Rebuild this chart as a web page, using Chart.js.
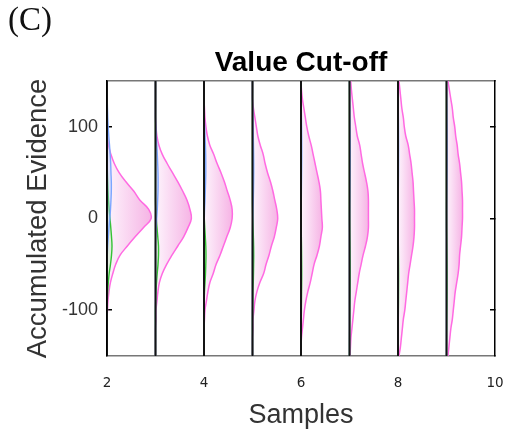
<!DOCTYPE html>
<html><head><meta charset="utf-8">
<script src="https://cdn.jsdelivr.net/npm/chart.js@4"></script>
<style>
html,body{margin:0;padding:0;background:#fff;}
#wrap{position:relative;width:508px;height:436px;}
#panel{position:absolute;left:8px;top:3px;font-family:'Liberation Serif','Times New Roman',serif;font-size:33px;line-height:1;color:#111;}
</style></head><body>
<div id="wrap"><canvas id="c" width="508" height="436"></canvas><div id="panel">(C)</div></div>
<script>
// ---- data ----
const samples = [2, 3, 4, 5, 6, 7, 8, 9];
const xTicks = [2, 4, 6, 8, 10];
const yTicks = [-100, 0, 100];
// evidence levels (top to bottom)
const levels = [150,140,130,120,110,100,90,80,70,60,50,40,30,20,10,0,-10,-20,-30,-40,-50,-60,-70,-80,-90,-100,-110,-120,-130,-140,-150];

// magenta (all trials) density, in sample units, per sample
const density2 = [0,0,0,0,0,0,0.01,0.03,0.08,0.15,0.25,0.39,0.55,0.68,0.86,0.91,0.75,0.58,0.42,0.27,0.18,0.12,0.07,0.04,0.02,0.01,0,0,0,0,0];
const density3 = [0,0,0,0,0,0.01,0.03,0.07,0.14,0.24,0.35,0.46,0.56,0.65,0.71,0.74,0.67,0.58,0.46,0.34,0.23,0.14,0.08,0.05,0.03,0.01,0.01,0,0,0,0];
const density4 = [0,0,0,0.01,0.02,0.04,0.07,0.12,0.2,0.27,0.35,0.42,0.48,0.54,0.58,0.58,0.54,0.47,0.4,0.33,0.25,0.19,0.12,0.08,0.05,0.02,0.01,0,0,0,0];
const density5 = [0,0,0,0.02,0.05,0.08,0.11,0.16,0.22,0.26,0.31,0.37,0.42,0.46,0.5,0.52,0.49,0.45,0.39,0.34,0.28,0.23,0.15,0.09,0.05,0.03,0.01,0.01,0,0,0];
const density6 = [0,0.01,0.03,0.06,0.09,0.12,0.16,0.21,0.25,0.29,0.33,0.37,0.4,0.41,0.42,0.43,0.44,0.41,0.38,0.33,0.27,0.23,0.19,0.14,0.1,0.07,0.05,0.03,0.01,0,0];
const density7 = [0.025,0.04,0.06,0.08,0.1,0.13,0.16,0.21,0.24,0.27,0.31,0.35,0.38,0.39,0.39,0.39,0.39,0.37,0.33,0.28,0.24,0.2,0.17,0.14,0.11,0.09,0.07,0.05,0.03,0.02,0.01];
const density8 = [0.02,0.04,0.06,0.08,0.11,0.13,0.16,0.21,0.24,0.27,0.29,0.31,0.32,0.33,0.34,0.34,0.34,0.33,0.31,0.28,0.25,0.22,0.2,0.18,0.16,0.14,0.11,0.09,0.07,0.05,0.02];
const density9 = [0.03,0.06,0.09,0.12,0.14,0.17,0.19,0.22,0.24,0.27,0.29,0.31,0.32,0.33,0.33,0.33,0.32,0.31,0.29,0.27,0.26,0.24,0.21,0.18,0.16,0.14,0.12,0.09,0.07,0.05,0.03];

// blue (upper-bound) density
const blue2 = [0,0,0.004,0.01,0.016,0.025,0.037,0.052,0.066,0.076,0.082,0.089,0.089,0.082,0.072,0.058,0.041,0.027,0.014,0.006,0,0,0,0,0,0,0,0,0,0,0];
const blue3 = [0,0,0,0,0,0.006,0.016,0.027,0.037,0.045,0.052,0.054,0.052,0.045,0.037,0.025,0.014,0.006,0,0,0,0,0,0,0,0,0,0,0,0,0];
const blue4 = [0,0,0,0,0.006,0.014,0.021,0.029,0.035,0.037,0.037,0.033,0.027,0.021,0.012,0.006,0,0,0,0,0,0,0,0,0,0,0,0,0,0,0];
const blue5 = [0,0,0,0.004,0.008,0.012,0.016,0.02,0.023,0.025,0.025,0.023,0.02,0.016,0.01,0.006,0.002,0,0,0,0,0,0,0,0,0,0,0,0,0,0];
const blue6 = [0,0,0.003,0.006,0.009,0.012,0.014,0.015,0.015,0.014,0.012,0.01,0.008,0.006,0.004,0.002,0,0,0,0,0,0,0,0,0,0,0,0,0,0,0];
const blue7 = [0,0.002,0.004,0.006,0.008,0.01,0.012,0.013,0.013,0.012,0.011,0.009,0.007,0.005,0.003,0.001,0,0,0,0,0,0,0,0,0,0,0,0,0,0,0];
const blue8 = [0,0.002,0.004,0.006,0.008,0.01,0.011,0.012,0.012,0.011,0.01,0.008,0.006,0.004,0.002,0.001,0,0,0,0,0,0,0,0,0,0,0,0,0,0,0];
const blue9 = [0.001,0.003,0.005,0.007,0.008,0.01,0.011,0.011,0.011,0.01,0.009,0.007,0.005,0.003,0.002,0.001,0,0,0,0,0,0,0,0,0,0,0,0,0,0,0];

// green (lower-bound) density
const green2 = [0,0,0,0,0,0,0,0,0,0.004,0.008,0.014,0.021,0.031,0.045,0.062,0.078,0.093,0.103,0.093,0.072,0.045,0.027,0.014,0.006,0.004,0,0,0,0,0];
const green3 = [0,0,0,0,0,0,0,0,0,0,0,0,0,0,0.006,0.016,0.031,0.047,0.062,0.062,0.052,0.035,0.021,0.01,0.004,0,0,0,0,0,0];
const green4 = [0,0,0,0,0,0,0,0,0,0,0,0,0,0,0,0.006,0.016,0.027,0.037,0.041,0.037,0.031,0.021,0.01,0.004,0,0,0,0,0,0];
const green5 = [0,0,0,0,0,0,0,0,0,0,0,0,0,0,0.002,0.006,0.012,0.018,0.023,0.025,0.023,0.02,0.016,0.01,0.006,0.002,0,0,0,0,0];
const green6 = [0,0,0,0,0,0,0,0,0,0,0,0,0,0,0,0.002,0.004,0.007,0.01,0.012,0.014,0.015,0.014,0.012,0.01,0.008,0.006,0.004,0.002,0,0];
const green7 = [0,0,0,0,0,0,0,0,0,0,0,0,0,0,0,0.001,0.003,0.005,0.008,0.01,0.012,0.013,0.013,0.012,0.01,0.008,0.006,0.004,0.002,0.001,0];
const green8 = [0,0,0,0,0,0,0,0,0,0,0,0,0,0,0,0.001,0.003,0.005,0.007,0.009,0.011,0.012,0.012,0.011,0.01,0.008,0.006,0.004,0.003,0.001,0];
const green9 = [0,0,0,0,0,0,0,0,0,0,0,0,0,0,0,0.001,0.002,0.004,0.006,0.008,0.01,0.011,0.011,0.011,0.01,0.008,0.006,0.005,0.003,0.002,0.001];

const magentaSets = [density2, density3, density4, density5, density6, density7, density8, density9];
const blueSets = [blue2, blue3, blue4, blue5, blue6, blue7, blue8, blue9];
const greenSets = [green2, green3, green4, green5, green6, green7, green8, green9];

// ---- build chart ----
function pts(base, dens) { return levels.map((v, i) => ({x: base + dens[i], y: v})); }
function pinkFill(base, dens) {
  return (ctx) => {
    const chart = ctx.chart;
    if (!chart.chartArea) return 'rgba(246,190,232,0.6)';
    const xs = chart.scales.x;
    const x0 = xs.getPixelForValue(base);
    const x1 = xs.getPixelForValue(base + Math.max(...dens));
    const g = chart.ctx.createLinearGradient(x0, 0, Math.max(x1, x0 + 1), 0);
    g.addColorStop(0, 'rgba(253,244,252,1)');
    g.addColorStop(1, 'rgba(246,180,229,1)');
    return g;
  };
}
const common = {xAxisID: 'x', yAxisID: 'y', pointRadius: 0, tension: 0.4};
const datasets = [];
samples.forEach((s, k) => {
  datasets.push(Object.assign({}, common, {data: [{x: s, y: -150}, {x: s, y: 150}], borderColor: '#141414', borderWidth: 2, fill: false, order: 0, tension: 0}));
  datasets.push(Object.assign({}, common, {data: pts(s, blueSets[k]), borderColor: '#7ba6ff', borderWidth: 1.4, backgroundColor: 'rgba(175,200,255,0.35)', fill: {value: s}, order: 1}));
  datasets.push(Object.assign({}, common, {data: pts(s, greenSets[k]), borderColor: '#35c235', borderWidth: 1.4, backgroundColor: 'rgba(175,230,175,0.35)', fill: {value: s}, order: 1}));
  datasets.push(Object.assign({}, common, {data: pts(s, magentaSets[k]), borderColor: '#ff6ae2', borderWidth: 1.5, backgroundColor: pinkFill(s, magentaSets[k]), fill: {value: s}, order: 2}));
});
const setTicks = (arr) => (scale) => { scale.ticks = arr.map(v => ({value: v})); };
const sans = 'Liberation Sans, Arial, Helvetica, sans-serif';

new Chart(document.getElementById('c'), {
  type: 'line',
  data: {datasets},
  options: {
    responsive: false, animation: false, devicePixelRatio: 1,
    indexAxis: 'y',
    layout: {padding: {left: 0, top: 0, bottom: 0, right: 13}},
    plugins: {
      legend: {display: false}, tooltip: {enabled: false},
      filler: {propagate: false},
      title: {display: true, text: 'Value Cut-off', fullSize: false, color: '#000',
        font: {family: sans, size: 28, weight: 'bold', lineHeight: 1.2}, padding: {top: 46.5, bottom: 0.9}}
    },
    scales: {
      x: {type: 'linear', position: 'bottom', min: 2, max: 10,
        afterBuildTicks: setTicks(xTicks),
        afterFit: (s) => { s.height = 80; s.paddingLeft = 0; s.paddingRight = 0; },
        grid: {drawOnChartArea: false, drawTicks: false},
        border: {color: '#777', width: 1.5},
        ticks: {padding: 19, color: '#222', font: {family: 'DejaVu Sans', size: 13.5}},
        title: {display: true, text: 'Samples', color: '#333', font: {family: sans, size: 27, lineHeight: 1.2}, padding: {top: 0, bottom: 4}}},
      xTop: {type: 'linear', position: 'top', min: 2, max: 10,
        afterFit: (s) => { s.height = 0; s.paddingLeft = 0; s.paddingRight = 0; },
        ticks: {display: false}, grid: {drawOnChartArea: false, drawTicks: false},
        border: {color: '#777', width: 1.5}},
      y: {type: 'linear', position: 'left', min: -150, max: 150,
        afterBuildTicks: setTicks(yTicks), afterFit: (s) => { s.width = 107; },
        grid: {drawOnChartArea: false, drawTicks: true, tickLength: -5, color: '#000', lineWidth: 1.5},
        border: {color: '#000', width: 1.5},
        ticks: {padding: 14, color: '#333', font: {family: sans, size: 18}},
        title: {display: true, text: 'Accumulated Evidence', color: '#333', font: {family: sans, size: 27.5, lineHeight: 1.2}, padding: {top: 22, bottom: 0}}},
      yRight: {type: 'linear', position: 'right', min: -150, max: 150,
        afterBuildTicks: setTicks(yTicks), afterFit: (s) => { s.width = 0; },
        grid: {drawOnChartArea: false, drawTicks: true, tickLength: -5, color: '#000', lineWidth: 1.5},
        border: {color: '#000', width: 1.5},
        ticks: {display: false}}
    }
  }
});
</script>
</body></html>
